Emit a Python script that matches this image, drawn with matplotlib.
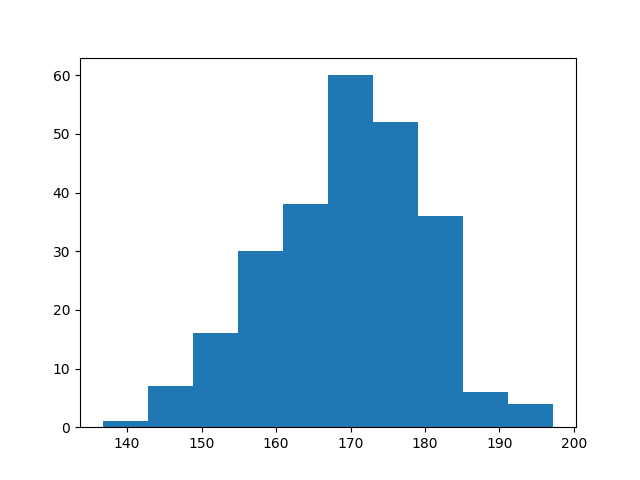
import matplotlib

matplotlib.use("Agg")

import matplotlib.pyplot as plt
import numpy as np

# bin edges and counts
bin_edges = [136.7, 142.76, 148.81, 154.87, 160.92, 166.98,
             173.03, 179.09, 185.14, 191.2, 197.25]
counts = [1, 7, 16, 30, 38, 60, 52, 36, 6, 4]

edges = np.array(bin_edges)
centers = (edges[:-1] + edges[1:]) / 2

fig, ax = plt.subplots(figsize=(6.4, 4.8), dpi=100)
ax.hist(centers, bins=edges, weights=counts, color="#1f77b4")

fig.savefig("out.png", dpi=100)
plt.close(fig)
